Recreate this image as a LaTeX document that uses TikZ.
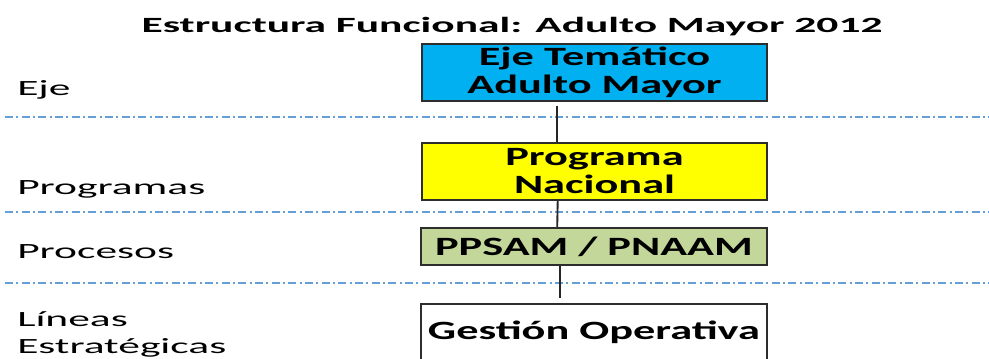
\documentclass[tikz,border=0pt]{standalone}
\usepackage{fontspec}
\setmainfont[FakeStretch=2.0]{Carlito}
\newfontfamily\boxfont[FakeStretch=1.68]{Carlito}
\usetikzlibrary{calc}

\definecolor{ejeblue}{RGB}{0,176,240}
\definecolor{progyellow}{RGB}{255,255,0}
\definecolor{procgreen}{RGB}{196,215,155}
\definecolor{sepblue}{RGB}{100,160,215}
\definecolor{boxline}{RGB}{45,45,45}

\begin{document}
\begin{tikzpicture}[x=0.75pt,y=-0.75pt,
  levelbox/.style={draw=boxline, line width=1.3pt, inner sep=0pt, minimum width=259pt,
    align=center, font=\boxfont\fontsize{19.8}{21}\selectfont\bfseries},
  leveltext/.style={anchor=base west, inner sep=0pt, align=left,
    font=\fontsize{16.3}{20.25}\selectfont},
  sepline/.style={sepblue, line width=1pt, dash pattern=on 6pt off 2.5pt on 1.5pt off 2.5pt},
  link/.style={draw=black!85, line width=1.4pt}]
  \useasboundingbox (0,0) rectangle (989,358);
  \clip (0,0) rectangle (989,358);

  \node [anchor=base, inner sep=0pt, font=\fontsize{16.3}{20}\selectfont\bfseries] (titulo) at (512,32)
    {Estructura Funcional: Adulto Mayor 2012};

  \foreach \y in {117,212,283}
  \draw [sepline] (5,\y) -- (989,\y);

  \node [levelbox, fill=ejeblue, minimum height=42.75pt] (eje) at (594.5,72.5) {Eje Temático\\Adulto Mayor};
  \node [levelbox, fill=progyellow, minimum height=42.75pt] (prog) at (594.5,171.5) {Programa\\Nacional};
  \node [levelbox, fill=procgreen, minimum height=27.75pt] (proc) at (594,246.5) {PPSAM / PNAAM};
  \node [levelbox, fill=white, minimum height=42pt] (gest) at (594,332) {Gestión Operativa};

  \draw [link, shorten <=3pt] ($(eje.south west)!.391!(eje.south east)$) -- ($(prog.north west)!.391!(prog.north east)$);
  \draw [link] ($(prog.south west)!.394!(prog.south east)$) -- ($(proc.north west)!.394!(proc.north east)$);
  \draw [link, shorten >=4pt] ($(proc.south west)!.402!(proc.south east)$) -- ($(gest.north west)!.402!(gest.north east)$);

  \node [leveltext] (lbleje) at (17,95) {Eje};
  \node [leveltext] (lblprog) at (17,194) {Programas};
  \node [leveltext] (lblproc) at (17,258) {Procesos};
  \node [leveltext] (lbllin) at (17,353) {Líneas\\Estratégicas};

\end{tikzpicture}
\end{document}
